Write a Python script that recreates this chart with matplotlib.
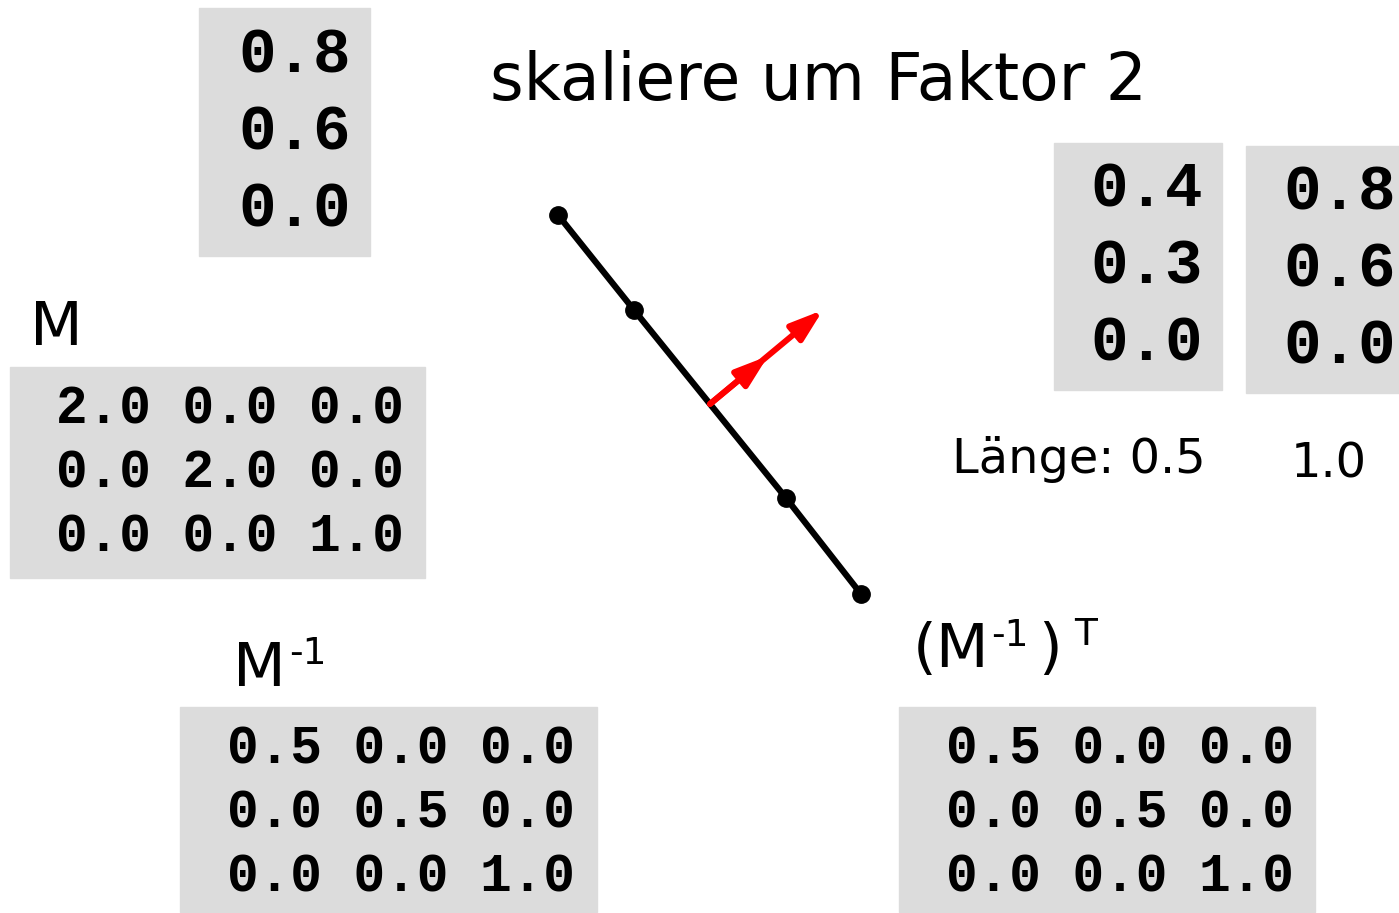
import matplotlib.pyplot as plt
from matplotlib.patches import Rectangle

# line through the points (pixel coords of the drawing)
line_x = [558, 634, 786, 861]
line_y = [215, 310, 498, 594]
normal_start = (710, 404)
normal_half = (768, 356)    # length 0.5
normal_full = (823, 310)    # length 1.0

vec_half = ['0.8', '0.6', '0.0']
vec_a = ['0.4', '0.3', '0.0']
vec_b = ['0.8', '0.6', '0.0']
M = ['2.0 0.0 0.0', '0.0 2.0 0.0', '0.0 0.0 1.0']
M_inv = ['0.5 0.0 0.0', '0.0 0.5 0.0', '0.0 0.0 1.0']
M_inv_T = ['0.5 0.0 0.0', '0.0 0.5 0.0', '0.0 0.0 1.0']

gray = '#dcdcdc'
sans = 'DejaVu Sans'
mono = 'Liberation Mono'

fig = plt.figure(figsize=(13.99, 9.13), dpi=100)
ax = fig.add_axes([0, 0, 1, 1])
ax.set_xlim(0, 1399)
ax.set_ylim(913, 0)
ax.axis('off')


def block(x0, y0, w, h, rows, tx, ty, dy, size):
    ax.add_patch(Rectangle((x0, y0), w, h, color=gray, zorder=0))
    for i, r in enumerate(rows):
        ax.text(tx, ty + i * dy, r, family=mono, weight='bold', fontsize=size,
                ha='left', va='center')


block(199, 8, 171, 248, vec_half, 238, 56, 77, 45)
block(1054, 143, 168, 247, vec_a, 1090, 190, 77, 45)
block(1246, 146, 160, 247, vec_b, 1283, 193, 77, 45)
block(10, 367, 415, 211, M, 56, 409, 64, 38)
block(180, 707, 417, 205, M_inv, 227, 749, 64, 38)
block(899, 707, 416, 205, M_inv_T, 946, 749, 64, 38)

ax.text(490, 100, 'skaliere um Faktor 2', family=sans, fontsize=46.5, va='baseline')
ax.text(30, 345, 'M', family=sans, fontsize=44, va='baseline')
ax.text(233, 686, 'M', family=sans, fontsize=44, va='baseline')
ax.text(289, 664, '-1', family=sans, fontsize=27, va='baseline')
ax.text(913, 667, '(M', family=sans, fontsize=44, va='baseline')
ax.text(991, 646, '-1', family=sans, fontsize=27, va='baseline')
ax.text(1038, 667, ')', family=sans, fontsize=44, va='baseline')
ax.text(1074, 645, 'T', family=sans, fontsize=27, va='baseline')
ax.text(952, 473, 'Länge: 0.5', family=sans, fontsize=34.5, va='baseline')
ax.text(1291, 478, '1.0', family=sans, fontsize=34.5, va='baseline')

ax.plot(line_x, line_y, color='black', lw=4.5, marker='o', ms=12.5, zorder=2)
for tip in (normal_full, normal_half):
    ax.annotate('', xy=tip, xytext=normal_start,
                arrowprops=dict(arrowstyle='-|>,head_width=0.25,head_length=0.75',
                                color='red', lw=4.3,
                                mutation_scale=26, shrinkA=0, shrinkB=0),
                zorder=3)

fig.savefig('out.png', dpi=100)
